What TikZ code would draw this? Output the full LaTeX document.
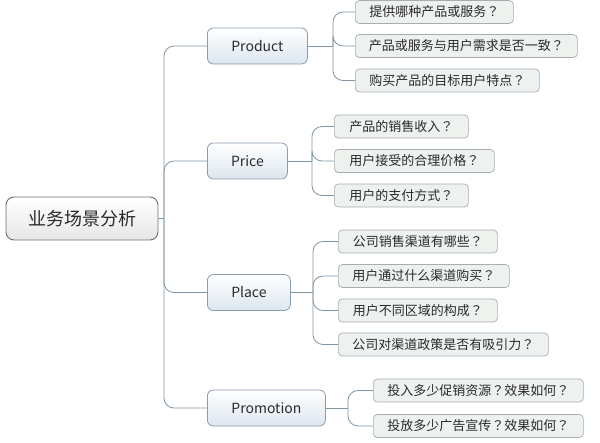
\documentclass[tikz,border=0pt]{standalone}
\usepackage{fontspec}
\setmainfont{Noto Sans CJK SC}
\newfontfamily\tcq{Noto Sans CJK TC}
\newcommand{\qm}{{\tcq ？}}
\usetikzlibrary{shadings}
\definecolor{linec}{HTML}{8296A3}
\definecolor{rootb}{HTML}{6E6E6E}
\definecolor{rootf}{HTML}{E6E6E6}
\definecolor{brb}{HTML}{8A9DAC}
\definecolor{brf}{HTML}{DCE6EF}
\definecolor{chb}{HTML}{A6AFAB}
\definecolor{chf}{HTML}{EEF2EF}
\definecolor{txt}{HTML}{2A2A2A}
\tikzset{
  rootbox/.style={draw=rootb, line width=0.9pt, rounded corners=8pt, top color=white, bottom color=rootf,
    minimum width=152pt, minimum height=43pt, inner sep=0pt, font=\fontsize{18}{20}\selectfont, text=txt},
  branchbox/.style={draw=brb, line width=0.8pt, rounded corners=6pt, top color=white, bottom color=brf,
    minimum height=36pt, inner sep=0pt, anchor=west, font=\fontsize{14}{16}\selectfont, text=txt},
  childbox/.style={draw=chb, line width=0.7pt, rounded corners=4pt, fill=chf,
    minimum height=23pt, inner xsep=12pt, inner ysep=0pt, anchor=west, font=\fontsize{13}{15}\selectfont, text=txt},
  conn/.style={draw=linec, line width=0.85pt, rounded corners=10pt},
}
\begin{document}
\begin{tikzpicture}[x=1pt,y=-1pt]
\useasboundingbox (0,0) rectangle (600,443);
% root
\node[rootbox] (root) at (82,218.5) {业务场景分析};
% branches
\node[branchbox, minimum width=100pt] (product) at (207,46) {Product};
\node[branchbox, minimum width=80pt] (price) at (207,161) {Price};
\node[branchbox, minimum width=83pt] (place) at (207,292.5) {Place};
\node[branchbox, minimum width=118pt] (promo) at (207,408) {Promotion};
% children of Product
\node[childbox, minimum width=158pt] (p1) at (355,12) {提供哪种产品或服务\qm};
\node[childbox, minimum width=222pt] (p2) at (355,46) {产品或服务与用户需求是否一致\qm};
\node[childbox, minimum width=184pt] (p3) at (355,80.5) {购买产品的目标用户特点\qm};
% children of Price
\node[childbox, minimum width=134pt] (r1) at (334,126.5) {产品的销售收入\qm};
\node[childbox, minimum width=160pt] (r2) at (334,161) {用户接受的合理价格\qm};
\node[childbox, minimum width=134pt] (r3) at (334,195.5) {用户的支付方式\qm};
% children of Place
\node[childbox, minimum width=159pt] (l1) at (338,241.5) {公司销售渠道有哪些\qm};
\node[childbox, minimum width=171pt] (l2) at (338,276) {用户通过什么渠道购买\qm};
\node[childbox, minimum width=159pt] (l3) at (338,310.5) {用户不同区域的构成\qm};
\node[childbox, minimum width=210pt] (l4) at (338,344.5) {公司对渠道政策是否有吸引力\qm};
% children of Promotion
\node[childbox, minimum width=210pt] (m1) at (373,390.5) {投入多少促销资源\qm 效果如何\qm};
\node[childbox, minimum width=210pt] (m2) at (373,426) {投放多少广告宣传\qm 效果如何\qm};
% trunk
\coordinate (trunk) at (164,218.5);
\draw[conn] (root.east) -- (trunk);
\foreach \b in {product,price,place,promo}{
  \draw[conn] (trunk) |- (\b.west);
}
% sub-branch joints
\coordinate (jprod) at (333,46);
\coordinate (jprice) at (312,161);
\coordinate (jplace) at (313,292.5);
\coordinate (jpromo) at (348,408);
\draw[conn] (product.east) -- (jprod);
\draw[conn] (price.east) -- (jprice);
\draw[conn] (place.east) -- (jplace);
\draw[conn] (promo.east) -- (jpromo);
\foreach \c in {p1,p2,p3}{\draw[conn] (jprod) |- (\c.west);}
\foreach \c in {r1,r2,r3}{\draw[conn] (jprice) |- (\c.west);}
\foreach \c in {l1,l2,l3,l4}{\draw[conn] (jplace) |- (\c.west);}
\foreach \c in {m1,m2}{\draw[conn] (jpromo) |- (\c.west);}
\end{tikzpicture}
\end{document}
